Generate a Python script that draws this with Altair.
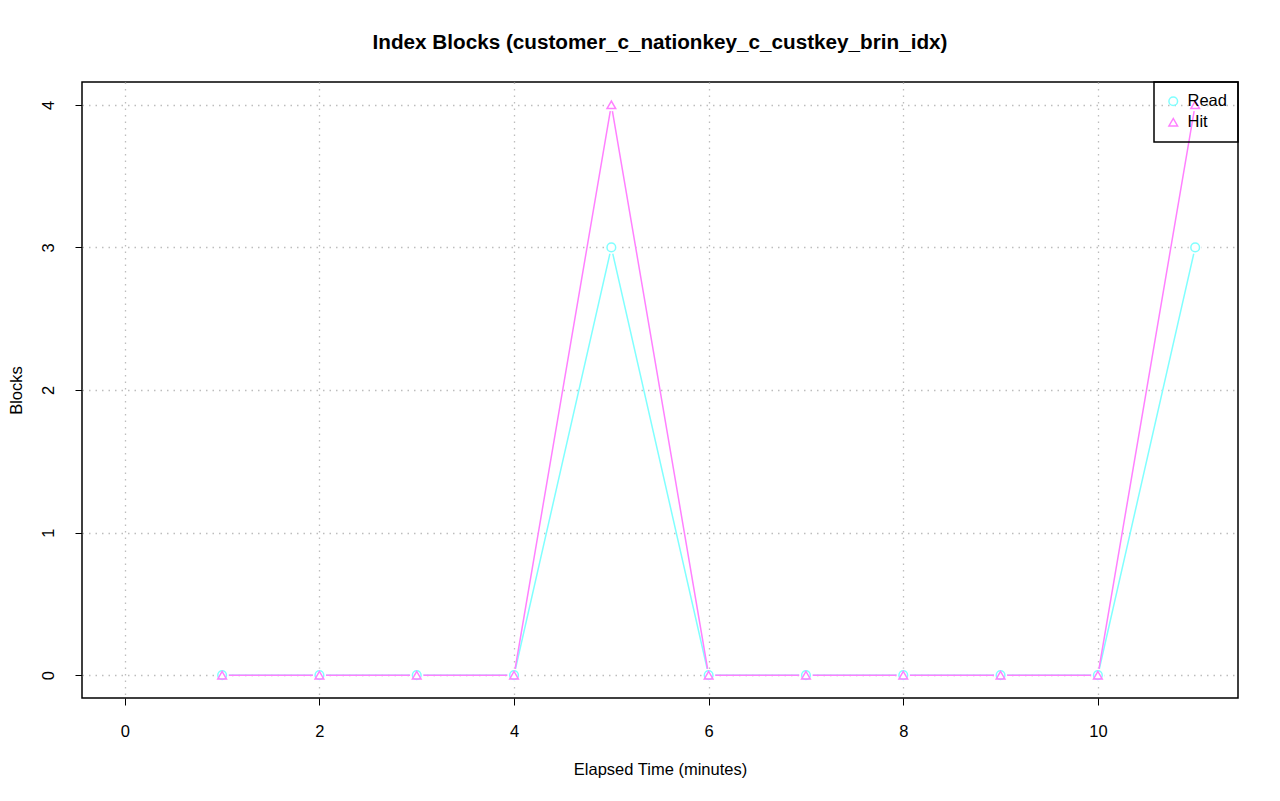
import altair as alt
import pandas as pd

minutes = [1, 2, 3, 4, 5, 6, 7, 8, 9, 10, 11]
read_blocks = [0, 0, 0, 0, 3, 0, 0, 0, 0, 0, 3]
hit_blocks = [0, 0, 0, 0, 4, 0, 0, 0, 0, 0, 4]
series = ["Read", "Hit"]
colors = ["#80FFFF", "#FF80FF"]
shapes = ["circle", "triangle-up"]
x_ticks = [0, 2, 4, 6, 8, 10]
y_ticks = [0, 1, 2, 3, 4]

rows = []
for m, v in zip(minutes, read_blocks):
    rows.append({"t": m, "v": v, "s": "Read"})
for m, v in zip(minutes, hit_blocks):
    rows.append({"t": m, "v": v, "s": "Hit"})
df = pd.DataFrame(rows)

FONT = "Liberation Sans"

xs = alt.Scale(domain=[-0.44, 11.44], nice=False, zero=False)
ys = alt.Scale(domain=[-0.16, 4.16], nice=False, zero=False)
cs = alt.Scale(domain=series, range=colors)
ss = alt.Scale(domain=series, range=shapes)

x_axis = alt.Axis(values=x_ticks, format="d", title="Elapsed Time (minutes)", grid=True,
                  gridColor="#bdbdbd", gridDash=[1.5, 5], gridWidth=1.3,
                  domain=False, tickColor="black", tickSize=7, tickWidth=1,
                  labelFontSize=16.5, labelPadding=18, titleFontSize=16.5,
                  titlePadding=22, labelFont=FONT, titleFont=FONT,
                  labelColor="black", titleColor="black", titleFontWeight="normal")
y_axis = alt.Axis(values=y_ticks, format="d", title="Blocks", grid=True,
                  gridColor="#bdbdbd", gridDash=[1.5, 5], gridWidth=1.3,
                  domain=False, tickColor="black", tickSize=7, tickWidth=1,
                  labelFontSize=16.5, labelPadding=19, labelAngle=270,
                  labelAlign="center", labelBaseline="bottom",
                  titleFontSize=16.5, titlePadding=16, labelFont=FONT,
                  titleFont=FONT, labelColor="black", titleColor="black",
                  titleFontWeight="normal")

legend = alt.Legend(orient="top-right", offset=0)

base = alt.Chart(df)

lines = base.mark_line(strokeWidth=1.5).encode(
    x=alt.X("t:Q", scale=xs, axis=x_axis),
    y=alt.Y("v:Q", scale=ys, axis=y_axis),
    color=alt.Color("s:N", scale=cs, title=None, legend=legend),
    detail="s:N",
)

halos = base.mark_point(filled=True, size=170, color="white", opacity=1,
                        shape="circle").encode(
    x=alt.X("t:Q", scale=xs),
    y=alt.Y("v:Q", scale=ys),
)

points = base.mark_point(filled=False, size=75, strokeWidth=1.5, opacity=1).encode(
    x=alt.X("t:Q", scale=xs),
    y=alt.Y("v:Q", scale=ys),
    color=alt.Color("s:N", scale=cs, title=None, legend=legend),
    shape=alt.Shape("s:N", scale=ss, title=None, legend=legend),
)

chart = alt.layer(lines, halos, points).properties(
    width=1156, height=616,
    title=alt.TitleParams("Index Blocks (customer_c_nationkey_c_custkey_brin_idx)",
                          fontSize=20.7, font=FONT, fontWeight="bold",
                          color="black", offset=28, anchor="middle"),
    padding={"left": 74, "top": 74, "right": 26, "bottom": 80},
    autosize=alt.AutoSizeParams(type="none"),
).configure_view(
    stroke="black", strokeWidth=1.5
).configure_legend(
    strokeColor="black", strokeWidth=1.5, padding=11,
    labelFontSize=16.5, labelFont=FONT, labelColor="black",
    symbolSize=75, symbolStrokeWidth=1.5, rowPadding=4, labelOffset=6,
    cornerRadius=0
)

chart.save("out.html", embed_options={"renderer": "svg", "actions": False})
